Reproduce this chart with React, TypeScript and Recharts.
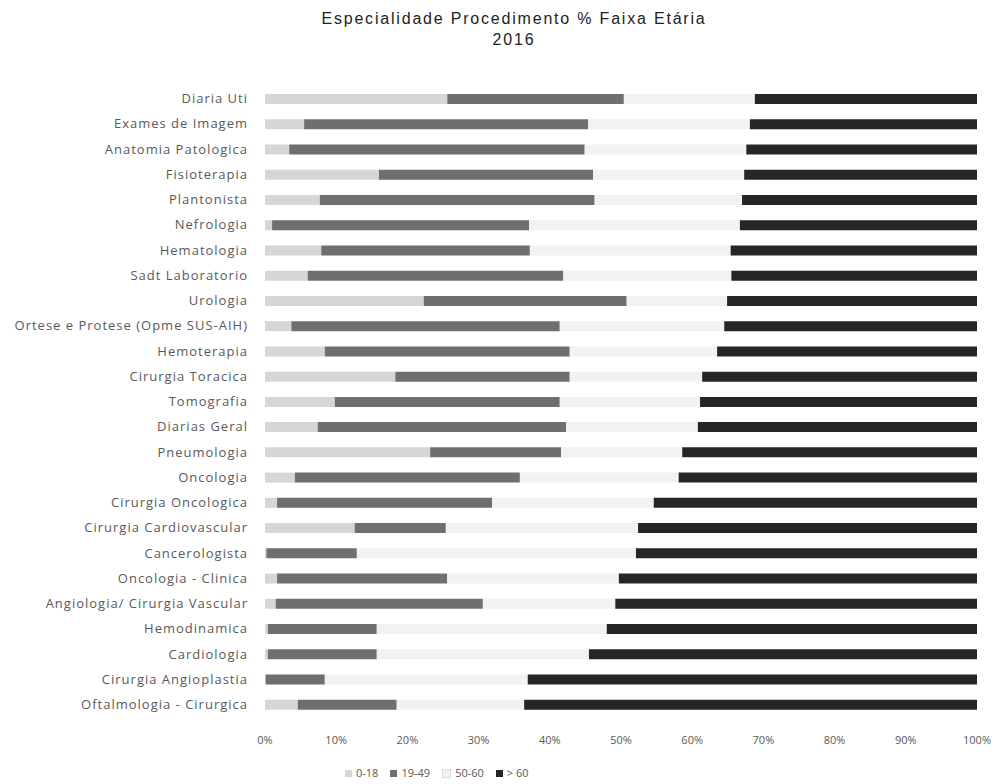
import { Bar, BarChart, XAxis, YAxis } from 'recharts'

const especialidades = [
  'Diaria Uti',
  'Exames de Imagem',
  'Anatomia Patologica',
  'Fisioterapia',
  'Plantonista',
  'Nefrologia',
  'Hematologia',
  'Sadt Laboratorio',
  'Urologia',
  'Ortese e Protese (Opme SUS-AIH)',
  'Hemoterapia',
  'Cirurgia Toracica',
  'Tomografia',
  'Diarias Geral',
  'Pneumologia',
  'Oncologia',
  'Cirurgia Oncologica',
  'Cirurgia Cardiovascular',
  'Cancerologista',
  'Oncologia - Clinica',
  'Angiologia/ Cirurgia Vascular',
  'Hemodinamica',
  'Cardiologia',
  'Cirurgia Angioplastia',
  'Oftalmologia - Cirurgica',
]

// % de procedimentos por faixa etária, na mesma ordem das especialidades
const faixa0a18 = [25.6, 5.5, 3.4, 16.0, 7.7, 1.0, 7.9, 6.0, 22.3, 3.7, 8.4, 18.3, 9.8, 7.4, 23.2, 4.2, 1.7, 12.6, 0.2, 1.7, 1.5, 0.4, 0.4, 0.1, 4.6]
const faixa19a49 = [24.8, 39.9, 41.5, 30.1, 38.6, 36.1, 29.3, 35.9, 28.5, 37.7, 34.4, 24.5, 31.6, 34.9, 18.4, 31.6, 30.2, 12.8, 12.7, 23.9, 29.1, 15.3, 15.3, 8.3, 13.9]
const faixa50a60 = [18.4, 22.7, 22.7, 21.2, 20.7, 29.6, 28.2, 23.6, 14.1, 23.1, 20.7, 18.6, 19.7, 18.5, 17.0, 22.3, 22.7, 27.0, 39.2, 24.1, 18.6, 32.3, 29.8, 28.5, 17.9]
const faixaAcima60 = [31.2, 31.9, 32.4, 32.7, 33.0, 33.3, 34.6, 34.5, 35.1, 35.5, 36.5, 38.6, 38.9, 39.2, 41.4, 41.9, 45.4, 47.6, 47.9, 50.3, 50.8, 52.0, 54.5, 63.1, 63.6]

const faixas = ['0-18', '19-49', '50-60', '> 60']
const chaves = ['f0a18', 'f19a49', 'f50a60', 'f60']
const cores = ['#d6d6d6', '#6f6f6f', '#f2f2f2', '#262626']
const percentTicks = [0, 0.1, 0.2, 0.3, 0.4, 0.5, 0.6, 0.7, 0.8, 0.9, 1]

const rows = especialidades.map((nome, i) => ({
  nome,
  f0a18: faixa0a18[i],
  f19a49: faixa19a49[i],
  f50a60: faixa50a60[i],
  f60: faixaAcima60[i],
}))

const fonte = '"Open Sans", sans-serif'

export default function App() {
  return (
    <div style={{ position: 'absolute', left: 0, top: 0, width: 995, height: 784, background: '#fff' }}>
      <div
        style={{
          position: 'absolute',
          left: 0,
          top: 8,
          width: 1028,
          textAlign: 'center',
          fontFamily: '"Liberation Sans", Arial, sans-serif',
          fontSize: 16,
          letterSpacing: 1.8,
          lineHeight: '21px',
          color: '#222',
        }}
      >
        <div>Especialidade Procedimento % Faixa Etária</div>
        <div>2016</div>
      </div>

      <BarChart
        width={995}
        height={784}
        data={rows}
        layout="vertical"
        stackOffset="expand"
        barSize={10}
        margin={{ top: 86, right: 18, bottom: 37, left: 0 }}
      >
        <XAxis
          type="number"
          domain={[0, 1]}
          ticks={percentTicks}
          tickFormatter={(v: number) => `${Math.round(v * 100)}%`}
          axisLine={false}
          tickLine={false}
          tickSize={0}
          tickMargin={19}
          height={30}
          interval={0}
          tick={{ fontSize: 11, fill: '#595959', fontFamily: fonte }}
        />
        <YAxis
          type="category"
          dataKey="nome"
          width={265}
          axisLine={false}
          tickLine={false}
          tickSize={0}
          tickMargin={17}
          interval={0}
          tick={{ fontSize: 13, fill: '#595959', fontFamily: fonte, letterSpacing: 1 }}
        />
        {chaves.map((k, i) => (
          <Bar key={k} dataKey={k} name={faixas[i]} stackId="faixa" fill={cores[i]} isAnimationActive={false} />
        ))}
      </BarChart>

      <div
        style={{
          position: 'absolute',
          left: 345,
          top: 766,
          display: 'flex',
          gap: 12,
          fontFamily: fonte,
          fontSize: 11,
          color: '#595959',
          lineHeight: '14px',
        }}
      >
        {faixas.map((f, i) => (
          <span key={f} style={{ display: 'flex', alignItems: 'center', gap: 4 }}>
            <span style={{ width: 7, height: 7, background: cores[i], border: i === 2 ? '1px solid #ddd' : 'none' }} />
            {f}
          </span>
        ))}
      </div>
    </div>
  )
}
